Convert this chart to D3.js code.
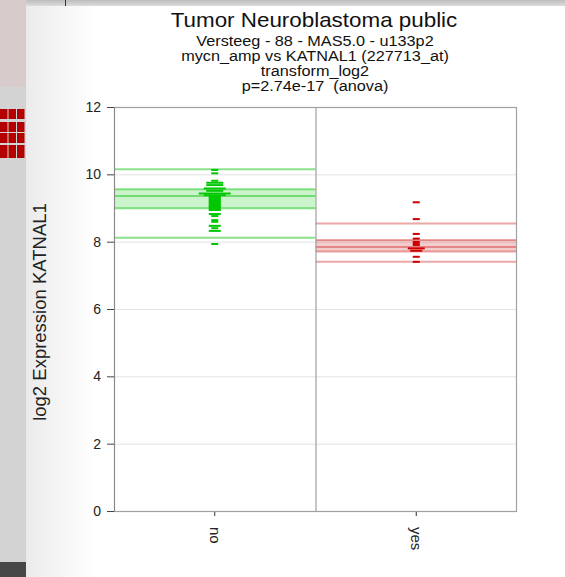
<!DOCTYPE html>
<html><head><meta charset="utf-8">
<script src="https://cdn.jsdelivr.net/npm/d3@7"></script>
<style>html,body{margin:0;padding:0;background:#fff;overflow:hidden}</style>
</head><body>
<script>
const categories = ["no", "yes"];
const titleLines = ["Versteeg - 88 - MAS5.0 - u133p2", "mycn_amp vs KATNAL1 (227713_at)", "transform_log2", "p=2.74e-17  (anova)"];
const yTicks = [0, 2, 4, 6, 8, 10, 12];
// expression values per group (duplicates = samples at same level)
const valuesNo = [10.13, 10.03, 9.81, 9.75, 9.75, 9.75, 9.68, 9.68, 9.68, 9.58, 9.58, 9.58, 9.58,
  9.51, 9.51, 9.51, 9.43, 9.43, 9.43, 9.43, 9.43, 9.43, 9.38, 9.38, 9.38, 9.38,
  9.34, 9.34, 9.30, 9.30, 9.26, 9.26, 9.22, 9.22, 9.18, 9.18, 9.14, 9.14, 9.10, 9.10,
  9.06, 9.06, 9.02, 9.02, 8.98, 8.98, 8.94, 8.94, 8.82, 8.82, 8.76, 8.64, 8.59,
  8.47, 8.47, 8.40, 8.32, 8.32, 7.93];
const valuesYes = [9.17, 8.67, 8.23, 8.09, 7.99, 7.94, 7.90, 7.80, 7.80, 7.80, 7.73, 7.73, 7.55, 7.40];
// box statistics: [whiskerLow, q1, mid, q3, whiskerHigh]
const statsNo = [8.12, 8.99, 9.36, 9.56, 10.15];
const statsYes = [7.40, 7.71, 7.84, 8.05, 8.54];

(function () {
const W = 565, H = 577;
const FONT = "'Liberation Sans', Arial, sans-serif";
const svg = d3.select("body").append("svg").attr("width", W).attr("height", H)
  .style("font-family", FONT);

// --- screenshot background surroundings ---
const defs = svg.append("defs");
const lg = defs.append("linearGradient").attr("id", "lg").attr("x1", 0).attr("x2", 1);
lg.append("stop").attr("offset", 0).attr("stop-color", "#ebebeb");
lg.append("stop").attr("offset", 1).attr("stop-color", "#ffffff");
const tg = defs.append("linearGradient").attr("id", "tg").attr("x1", 0).attr("x2", 0).attr("y1", 0).attr("y2", 1);
tg.append("stop").attr("offset", 0).attr("stop-color", "#bdbdbd");
tg.append("stop").attr("offset", 1).attr("stop-color", "#dcdcdc");
svg.append("rect").attr("x", 0).attr("y", 0).attr("width", W).attr("height", 6).attr("fill", "url(#tg)");
svg.append("rect").attr("x", 0).attr("y", 0).attr("width", 26).attr("height", H).attr("fill", "#d3d3d3");
svg.append("rect").attr("x", 0).attr("y", 0).attr("width", 26).attr("height", 87).attr("fill", "#d7cbcb");
svg.append("rect").attr("x", 0).attr("y", 562).attr("width", 26).attr("height", 15).attr("fill", "#474747");
svg.append("line").attr("x1", 65.5).attr("x2", 65.5).attr("y1", 0).attr("y2", 6).attr("stroke", "#333");
const sqRows = [109, 122, 133, 145], sqCols = [0, 8.5, 17];
sqRows.forEach((ry, i) => sqCols.forEach(cx => svg.append("rect").attr("x", cx).attr("y", ry)
  .attr("width", 7.5).attr("height", i === 3 ? 13 : 10).attr("fill", "#b30000")));
svg.append("rect").attr("x", 26).attr("y", 6).attr("width", W - 26).attr("height", H - 6).attr("fill", "#fff");
svg.append("rect").attr("x", 26).attr("y", 6).attr("width", 70).attr("height", H - 6).attr("fill", "url(#lg)");

// --- titles (slightly wide, as in the reference) ---
svg.append("text").attr("transform", "translate(314,27) scale(1.12,1)").attr("text-anchor", "middle")
  .attr("font-size", 20).attr("fill", "#111").text("Tumor Neuroblastoma public");
titleLines.forEach((t, i) => svg.append("text")
  .attr("transform", `translate(315,${45.5 + i * 15.3}) scale(1.16,1)`)
  .style("white-space", "pre")
  .attr("text-anchor", "middle").attr("font-size", 14).attr("fill", "#111").text(t));

// --- scales ---
const pL = 114, pR = 517, pT = 107, pB = 511;
const y = d3.scaleLinear().domain([0, 12]).range([pB, pT]);
const x = d3.scaleBand().domain(categories).range([pL, pR]);

// gridlines
svg.append("g").selectAll("line").data(yTicks.filter(d => d > 0 && d < 12)).join("line")
  .attr("x1", pL).attr("x2", pR).attr("y1", d => y(d) + 0.5).attr("y2", d => y(d) + 0.5)
  .attr("stroke", "#e2e2e2").attr("stroke-width", 1);

const groups = [
  { cat: "no", vals: valuesNo, st: statsNo, dot: "#00c800", fill: "rgba(0,200,0,0.2)", edge: "rgba(0,190,0,0.45)" },
  { cat: "yes", vals: valuesYes, st: statsYes, dot: "#cc0000", fill: "rgba(204,0,0,0.2)", edge: "rgba(204,0,0,0.35)" }
];
groups.forEach(g => {
  const x0 = x(g.cat), bw = x.bandwidth(), cx = x0 + bw / 2;
  const gg = svg.append("g");
  gg.append("rect").attr("x", x0).attr("width", bw)
    .attr("y", y(g.st[3])).attr("height", y(g.st[1]) - y(g.st[3])).attr("fill", g.fill);
  g.st.forEach(v => gg.append("line")
    .attr("x1", x0).attr("x2", x0 + bw).attr("y1", y(v)).attr("y2", y(v))
    .attr("stroke", g.edge).attr("stroke-width", 2));
  const counts = d3.rollups(g.vals, v => v.length, d => d);
  gg.selectAll("rect.pt").data(counts).join("rect").attr("class", "pt")
    .attr("x", d => cx - (7 + (d[1] - 1) * 5) / 2).attr("width", d => 7 + (d[1] - 1) * 5)
    .attr("y", d => y(d[0]) - 1).attr("height", 2).attr("fill", g.dot);
});

// frame
svg.append("rect").attr("x", pL + 0.5).attr("y", pT + 0.5).attr("width", pR - pL - 1)
  .attr("height", pB - pT).attr("fill", "none").attr("stroke", "#a0a0a0").attr("stroke-width", 1.2);
svg.append("line").attr("x1", x("yes") + 0.5).attr("x2", x("yes") + 0.5).attr("y1", pT).attr("y2", pB)
  .attr("stroke", "#a0a0a0").attr("stroke-width", 1.2);

// y axis
const ya = svg.append("g").attr("transform", `translate(${pL},0)`)
  .call(d3.axisLeft(y).tickValues(yTicks).tickSize(7).tickPadding(6));
ya.select(".domain").attr("stroke", "#888");
ya.selectAll(".tick line").attr("stroke", "#444");
ya.selectAll("text").attr("font-size", 14).attr("fill", "#222").attr("font-family", FONT);

// x axis
const xa = svg.append("g").attr("transform", `translate(0,${pB})`)
  .call(d3.axisBottom(x).tickSize(4).tickPadding(0));
xa.select(".domain").remove();
xa.selectAll(".tick line").attr("stroke", "#333").attr("transform", "translate(0,1)");
xa.selectAll("text").attr("font-size", 15).attr("fill", "#222")
  .attr("font-family", FONT)
  .attr("transform", "translate(0,16) rotate(90)").attr("text-anchor", "start").attr("dy", "0.35em").attr("y", 0);

// y title
svg.append("text").attr("transform", "translate(46,312) rotate(-90)").attr("text-anchor", "middle")
  .attr("font-size", 18.5).attr("fill", "#222").text("log2 Expression KATNAL1");
})();
</script>
</body></html>
